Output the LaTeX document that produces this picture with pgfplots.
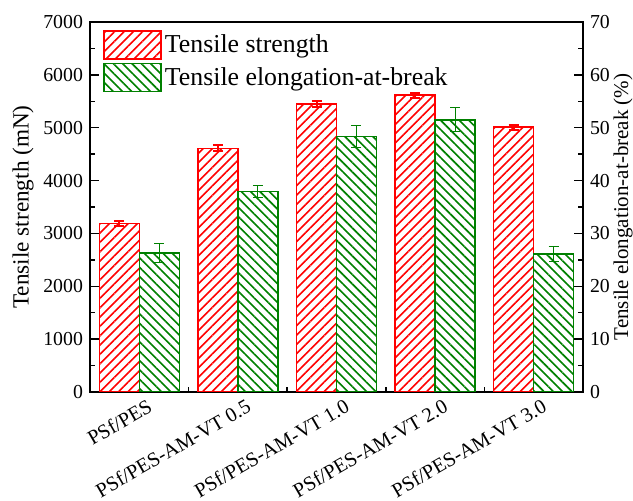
\documentclass[border=0pt]{standalone}
\usepackage{fontspec}
\setmainfont{Liberation Serif}
\usepackage{pgfplots}
\pgfplotsset{compat=1.18}
\usetikzlibrary{patterns.meta}
\definecolor{myred}{RGB}{255,0,0}
\definecolor{mygreen}{RGB}{0,128,0}
\begin{document}
\begin{tikzpicture}
\pgfplotsset{
  common/.style={
    scale only axis, width=246.5pt, height=185pt,
    xmin=-0.5, xmax=4.5,
    tick align=inside,
    major tick length=4.5pt, minor tick length=2.5pt,
    every tick/.style={black, line width=0.75pt},
    axis line style={line width=1pt},
    tick label style={font=\fontsize{9.9}{11}\selectfont},
    /pgf/number format/assume math mode=true,
    scaled y ticks=false,
    yticklabel style={/pgf/number format/1000 sep={}},
  },
  mylegend/.style={legend image code/.code={\draw[##1] (0pt,-7pt) rectangle (28.5pt,7pt);}},
}
\begin{axis}[common,
  ymin=0, ymax=7000, ytick={0,1000,...,7000}, minor ytick={500,1500,...,6500},
  ytick pos=left, xtick pos=left,
  xtick={0,1,2,3,4}, minor xtick={0.5,1.5,2.5,3.5},
  xticklabels={PSf/PES, PSf/PES-AM-VT 0.5, PSf/PES-AM-VT 1.0, PSf/PES-AM-VT 2.0, PSf/PES-AM-VT 3.0},
  xticklabel style={rotate=30, anchor=north east, font=\fontsize{10.2}{11}\selectfont, yshift=-1pt, xshift=5pt},
  ylabel={Tensile strength (mN)}, ylabel style={font=\fontsize{11.6}{13}\selectfont},
  ylabel shift=-2pt,
  legend style={at={(0,1)}, anchor=north west, xshift=6.5pt, yshift=-4pt, draw=none, fill=none,
    font=\fontsize{12.9}{14}\selectfont, row sep=1.5pt, inner sep=0pt, nodes={inner sep=1.5pt}},
  legend cell align=left,
]
\addplot[ybar, mylegend, bar width=20pt, bar shift=0pt, draw=myred, line width=0.75pt,
  pattern={Lines[angle=45,distance=3.3pt,line width=0.8pt]}, pattern color=myred,
  error bars/.cd, y dir=both, y explicit,
  error bar style={line width=1pt, myred},
  error mark options={rotate=90, mark size=2.5pt, line width=1pt, myred}]
coordinates {(-0.2026,3190) +- (0,45) (0.7974,4610) +- (0,55) (1.7974,5450) +- (0,55) (2.7974,5615) +- (0,45) (3.7974,5010) +- (0,45)};
\addlegendentry{Tensile strength}
\addlegendimage{mylegend, draw=mygreen, line width=0.75pt,
  pattern={Lines[angle=-45,distance=3.3pt,line width=0.8pt]}, pattern color=mygreen}
\addlegendentry{Tensile elongation-at-break}
\end{axis}
\begin{axis}[common,
  ymin=0, ymax=70, ytick={0,10,...,70}, minor ytick={5,15,...,65},
  axis y line*=right, axis x line=none,
  ylabel={Tensile elongation-at-break (\%)}, ylabel style={font=\fontsize{10.5}{12}\selectfont},
  ylabel shift=-5pt,
]
\addplot[ybar, bar width=20pt, bar shift=0pt, draw=mygreen, line width=0.75pt,
  pattern={Lines[angle=-45,distance=3.3pt,line width=0.8pt]}, pattern color=mygreen,
  error bars/.cd, y dir=both, y explicit,
  error bar style={line width=0.5pt, mygreen},
  error mark options={rotate=90, mark size=2.5pt, line width=0.5pt, mygreen}]
coordinates {(0.2026,26.3) +- (0,1.8) (1.2026,37.95) +- (0,1.2) (2.2026,48.3) +- (0,2.1) (3.2026,51.5) +- (0,2.3) (4.2026,26.15) +- (0,1.4)};
\end{axis}
\pgfresetboundingbox
\path (-45pt,-54.5pt) rectangle (271.5pt,196pt);
\end{tikzpicture}
\end{document}
